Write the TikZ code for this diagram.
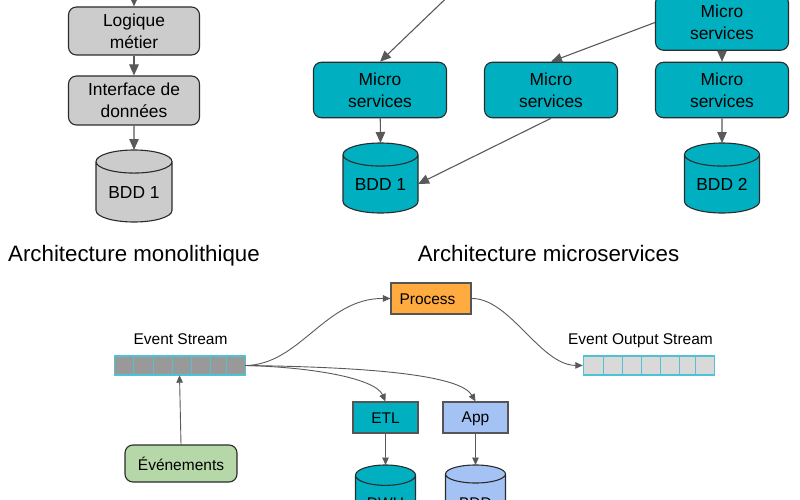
\documentclass[tikz,border=0pt]{standalone}
\usepackage{fontspec}
\setmainfont{Liberation Sans}
\usepackage{tikz}
\usetikzlibrary{arrows.meta,shapes.geometric}
\definecolor{tealfill}{HTML}{00B0C1}
\definecolor{greyfill}{HTML}{CCCCCC}
\definecolor{bluefill}{HTML}{A4C2F4}
\definecolor{greenfill}{HTML}{B6D7A8}
\definecolor{orangefill}{HTML}{FFAB40}
\definecolor{linegrey}{HTML}{595959}
\definecolor{edgedark}{HTML}{2B2B2B}
\definecolor{cellline}{HTML}{4FC3D3}
\tikzset{
  bigtext/.style={font=\fontsize{17.4}{22}\selectfont},
  smalltext/.style={font=\fontsize{15.5}{19}\selectfont},
  roundbox/.style={draw=edgedark,line width=1.1pt,rounded corners=8pt,minimum width=#1,inner sep=0pt,align=center,bigtext},
  roundbox/.default=131pt,
  flatbox/.style={draw=edgedark!80,line width=1.1pt,inner sep=0pt,align=center,smalltext,execute at begin node={\rule{0pt}{0.8em}}},
  dbase/.style={cylinder,shape border rotate=90,draw=edgedark,line width=1.1pt,inner sep=0pt,outer sep=0pt,aspect=0.45,anchor=shape center,bigtext},
  bigarrow/.style={draw=linegrey,line width=1.1pt,-{Triangle[length=11pt,width=9.5pt]}},
  thinarrow/.style={draw=linegrey,line width=0.9pt,-{Triangle[length=7.5pt,width=6.5pt]}},
  cellbox/.style={draw=cellline,line width=1.1pt,inner sep=0pt,minimum height=19pt,anchor=west},
  title/.style={font=\fontsize{22.3}{26}\selectfont,inner sep=0pt,anchor=base}
}
\begin{document}
\begin{tikzpicture}[x=1pt,y=-1pt]
\path[use as bounding box,clip] (0,0) rectangle (800,500);

\coordinate (monoTop) at (134,-15);
\coordinate (microTop) at (460,-15);
\node [roundbox,fill=greyfill,minimum height=48pt] (logique) at (134,31) {Logique\\métier};
\node [roundbox,fill=greyfill,minimum height=49pt] (interface) at (134,100.5) {Interface de\\données};
\node [dbase,fill=greyfill,minimum width=76pt,minimum height=72pt] (bddMono) at (134,186) {BDD 1};
\draw [bigarrow] (monoTop) -- (logique.north);
\draw [bigarrow] (logique) -- (interface);
\draw [bigarrow] (interface) -- (bddMono.north);
\node [title] (titleMono) at (134,261) {Architecture monolithique};

\node [roundbox=133pt,fill=tealfill,minimum height=55.5pt] (microA) at (380,90) {Micro\\services};
\node [roundbox=133pt,fill=tealfill,minimum height=55.5pt] (microB) at (551,90) {Micro\\services};
\node [roundbox=133pt,fill=tealfill,minimum height=55.5pt] (microC) at (722,90) {Micro\\services};
\node [roundbox=133pt,fill=tealfill,minimum height=55.5pt] (microD) at (722,22.5) {Micro\\services};
\node [dbase,fill=tealfill,minimum width=75pt,minimum height=70pt] (bddA) at (380.5,178) {BDD 1};
\node [dbase,fill=tealfill,minimum width=75pt,minimum height=70pt] (bddB) at (722,178) {BDD 2};
\draw [bigarrow] (microTop) -- (microA.north);
\draw [bigarrow] (microD.west) -- (microB.north);
\draw [bigarrow] (microD) -- (microC);
\draw [bigarrow] (microA) -- (bddA.north);
\draw [bigarrow] (microC) -- (bddB.north);
\draw [bigarrow] (microB.south) -- (bddA.east);
\node [title] (titleMicro) at (548.5,261) {Architecture microservices};

\node [inner sep=0pt,minimum height=19pt,minimum width=131pt] (inStream) at (179.5,365.5) {};
\foreach \i/\xa/\xb in {1/114/133,2/133/153,3/153/172,4/172/191,5/191/210,6/210/226,7/226/245}
  \node [cellbox,fill=black!40,minimum width=\xb pt-\xa pt] (inCell\i) at (\xa,365.5) {};
\node [inner sep=0pt,minimum height=19pt,minimum width=131pt] (outStream) at (648.5,365.5) {};
\foreach \i/\xa/\xb in {1/583/603,2/603/622,3/622/641,4/641/660,5/660/679,6/679/695,7/695/714}
  \node [cellbox,fill=black!15,minimum width=\xb pt-\xa pt] (outCell\i) at (\xa,365.5) {};
\node [smalltext,inner sep=0pt,anchor=base] (inLabel) at (180.5,344) {Event Stream};
\node [smalltext,inner sep=0pt,anchor=base] (outLabel) at (640.5,344) {Event Output Stream};

\node [flatbox,fill=orangefill,minimum width=80pt,minimum height=31pt] (process) at (431,298.5) {Process\hspace*{7pt}};
\node [flatbox,fill=tealfill,minimum width=65pt,minimum height=31pt] (etl) at (385.5,417.5) {ETL};
\node [flatbox,fill=bluefill,minimum width=65pt,minimum height=31pt] (app) at (475.5,417.5) {App};
\node [roundbox=112pt,smalltext,fill=greenfill,minimum height=37pt] (events) at (181,463.5) {Événements};
\node [dbase,smalltext,aspect=0.55,fill=tealfill,minimum width=60pt,minimum height=66pt] (dwh) at (385.5,498) {DWH};
\node [dbase,smalltext,aspect=0.55,fill=bluefill,minimum width=60pt,minimum height=66pt] (bdd) at (475.5,498) {BDD};

\draw [thinarrow] (events.north) -- (inStream.south);
\draw [thinarrow] (inStream.east) .. controls (300,365) and (325,298) .. (process.west);
\draw [thinarrow] (inStream.east) .. controls (310,367) and (375,378) .. (etl.north);
\draw [thinarrow] (inStream.east) .. controls (370,367) and (460,375) .. (app.north);
\draw [thinarrow] (process.east) .. controls (510,298) and (540,365) .. (outStream.west);
\draw [thinarrow] (etl) -- (dwh.north);
\draw [thinarrow] (app) -- (bdd.north);
\end{tikzpicture}
\end{document}
